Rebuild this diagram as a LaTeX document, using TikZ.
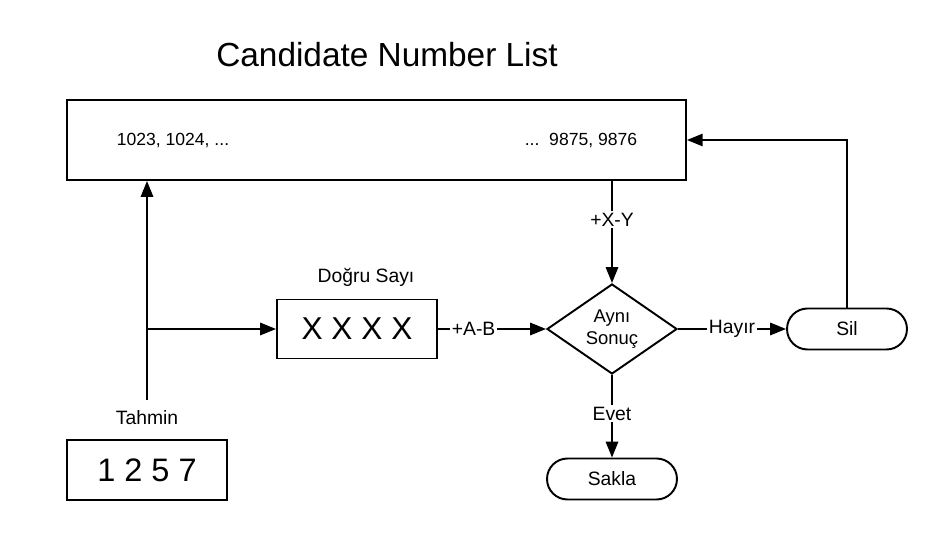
\documentclass[tikz,border=0pt]{standalone}
\usepackage{fontspec}
\setmainfont{Liberation Sans}
\usetikzlibrary{shapes.geometric,shapes.misc,arrows.meta}

\begin{document}
\begin{tikzpicture}[x=0.02cm, y=-0.02cm, line width=1.1pt,
    font=\fontsize{11}{13}\selectfont,
    box/.style={rectangle, draw, inner sep=0pt},
    term/.style={rounded rectangle, draw, minimum height=0.82cm, inner sep=0pt},
    lbl/.style={fill=white, inner sep=1pt},
    arr/.style={-{Triangle[length=9pt,width=7pt]}}]
    \useasboundingbox (0,0) rectangle (947,540);

    \node (title) at (387,55) {\fontsize{19}{23}\selectfont Candidate Number List};
    \node[box, minimum width=12.38cm, minimum height=1.6cm] (list) at (376.5,140) {};
    \node[anchor=west, font=\fontsize{10}{12}\selectfont] (first) at (110,140) {1023, 1024, ...};
    \node[anchor=east, font=\fontsize{10}{12}\selectfont] (last) at (644,140) {...\ \ 9875, 9876};

    \node (dlabel) at (366,277) {Doğru Sayı};
    \node[box, minimum width=3.2cm, minimum height=1.18cm, font=\fontsize{18}{21}\selectfont] (digits) at (357,329) {X X X X};
    \node[diamond, draw, aspect=1.44, minimum width=2.6cm, minimum height=1.8cm, inner sep=0pt, align=center, font=\fontsize{10.5}{12.6}\selectfont] (same) at (612,329) {Aynı\\Sonuç};
    \node[term, minimum width=2.4cm] (sil) at (847,329) {Sil};
    \node[term, minimum width=2.6cm] (sakla) at (612,479) {Sakla};

    \node (tahmin) at (147,418) {Tahmin};
    \node[box, minimum width=3.2cm, minimum height=1.2cm, font=\fontsize{18.5}{22}\selectfont] (guess) at (147,470) {1 2 5 7};
    \coordinate (gtop) at (147,400);
    \coordinate (branch) at (147,329);

    \draw[arr] (gtop) -- (gtop |- list.south);
    \draw[arr] (branch) -- (digits.west);
    \draw[arr] (digits) -- node[lbl, pos=0.33] {+A-B} (same);
    \draw[arr] (list.south -| same) -- node[lbl, pos=0.38] {+X-Y} (same.north);
    \draw[arr] (same) -- node[lbl] {Hayır} (sil);
    \draw[arr] (same) -- node[lbl, pos=0.47] {Evet} (sakla);
    \draw[arr] (sil.north) |- (list.east);
\end{tikzpicture}
\end{document}
